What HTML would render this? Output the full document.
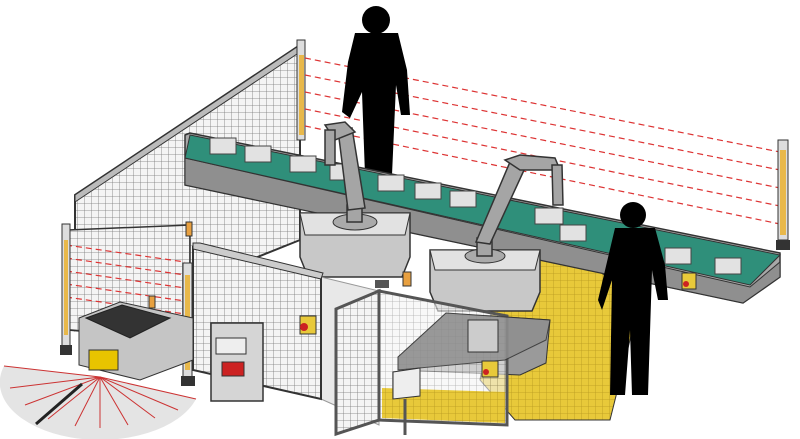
<!DOCTYPE html>
<html><head><meta charset="utf-8"><style>
html,body{margin:0;padding:0;background:#fff;}
svg{display:block}
</style></head><body>
<svg width="800" height="439" viewBox="0 0 800 439" xmlns="http://www.w3.org/2000/svg">
<defs>
<pattern id="mesh" width="7" height="7" patternUnits="userSpaceOnUse">
<rect width="7" height="7" fill="#f4f4f4"/>
<path d="M0 0H7M0 0V7" stroke="#777" stroke-width="0.8"/>
</pattern>
<pattern id="ymesh" width="7" height="7" patternUnits="userSpaceOnUse">
<rect width="7" height="7" fill="#e8c93a"/>
<path d="M0 0H7M0 0V7" stroke="#b89a20" stroke-width="0.8"/>
</pattern>
</defs>

<!-- yellow floor -->
<polygon points="500,262 580,258 640,300 610,420 515,420 480,380" fill="url(#ymesh)" stroke="#333"/>

<!-- left fence -->
<polygon points="75,195 300,45 300,240 75,330" fill="url(#mesh)" stroke="#333" stroke-width="2"/>
<polygon points="75,195 300,45 300,52 75,202" fill="#bbb" stroke="#333"/>
<rect x="297" y="40" width="8" height="100" fill="#ddd" stroke="#333"/>
<rect x="299" y="55" width="5" height="80" fill="#e8b84a"/>

<!-- red dashed lines -->
<g stroke="#d33" stroke-width="1.2" stroke-dasharray="6,4" fill="none">
<line x1="305" y1="58" x2="780" y2="152"/>
<line x1="305" y1="75" x2="780" y2="170"/>
<line x1="305" y1="92" x2="780" y2="188"/>
<line x1="305" y1="109" x2="780" y2="206"/>
<line x1="305" y1="126" x2="780" y2="224"/>
</g>
<rect x="778" y="140" width="10" height="100" fill="#ddd" stroke="#333"/>
<rect x="780" y="150" width="6" height="85" fill="#e8b84a"/>
<rect x="776" y="240" width="14" height="10" fill="#333"/>

<!-- person top -->
<circle cx="376" cy="20" r="14" fill="#000"/>
<path d="M355 33 L398 33 L407 70 L410 115 L401 115 L396 85 L392 175 L365 175 L362 92 L350 118 L342 112 L348 62 Z" fill="#000"/>

<!-- conveyor -->
<polygon points="185,135 190,133 780,253 780,277 743,303 185,185" fill="#a8a8a8" stroke="#333" stroke-width="1.5"/>
<polygon points="185,158 750,287 780,262 780,277 743,303 185,185" fill="#8f8f8f" stroke="#333"/>
<polygon points="190,135 780,255 750,285 185,158" fill="#2f8f7a" stroke="#333"/>
<g fill="#e2e2e2" stroke="#444">
<rect x="210" y="138" width="26" height="16"/><rect x="245" y="146" width="26" height="16"/>
<rect x="290" y="156" width="26" height="16"/><rect x="330" y="164" width="26" height="16"/>
<rect x="378" y="175" width="26" height="16"/><rect x="415" y="183" width="26" height="16"/>
<rect x="450" y="191" width="26" height="16"/><rect x="535" y="208" width="28" height="16"/>
<rect x="560" y="225" width="26" height="16"/>
<rect x="665" y="248" width="26" height="16"/>
<rect x="715" y="258" width="26" height="16"/>
</g>
<rect x="682" y="273" width="14" height="16" fill="#e8c93a" stroke="#333"/>
<circle cx="686" cy="284" r="3" fill="#c22"/>

<!-- robot 1 -->
<polygon points="300,213 410,213 410,257 402,277 308,277 300,257" fill="#c8c8c8" stroke="#333" stroke-width="1.5"/>
<polygon points="300,213 410,213 405,235 305,235" fill="#e2e2e2" stroke="#333"/>
<ellipse cx="355" cy="222" rx="22" ry="8" fill="#aaa" stroke="#333"/>
<g stroke="#333" stroke-width="1.5" fill="#a5a5a5">
<polygon points="347,222 362,222 362,205 347,205"/>
<polygon points="348,210 365,208 352,128 338,130"/>
<polygon points="325,125 345,122 355,132 335,140"/>
<polygon points="325,130 335,130 335,165 325,165"/>
</g>

<!-- robot 2 -->
<polygon points="430,250 540,250 540,292 532,311 438,311 430,292" fill="#c8c8c8" stroke="#333" stroke-width="1.5"/>
<polygon points="430,250 540,250 535,270 435,270" fill="#e2e2e2" stroke="#333"/>
<ellipse cx="485" cy="256" rx="20" ry="7" fill="#aaa" stroke="#333"/>
<g stroke="#333" stroke-width="1.5" fill="#a5a5a5">
<polygon points="477,256 492,256 492,238 477,238"/>
<polygon points="476,242 490,244 525,168 510,162"/>
<polygon points="505,160 520,155 555,158 560,170 520,170"/>
<polygon points="552,165 562,165 563,205 553,205"/>
</g>

<!-- left lower fence + red dashes -->
<polygon points="68,230 190,225 190,340 68,330" fill="url(#mesh)" stroke="#333" stroke-width="1.5"/>
<g stroke="#d33" stroke-width="1.2" stroke-dasharray="6,4" fill="none">
<line x1="66" y1="245" x2="185" y2="262"/>
<line x1="66" y1="258" x2="185" y2="275"/>
<line x1="66" y1="271" x2="185" y2="288"/>
<line x1="66" y1="284" x2="185" y2="301"/>
<line x1="66" y1="297" x2="185" y2="314"/>
</g>
<rect x="62" y="224" width="8" height="125" fill="#ddd" stroke="#333"/>
<rect x="64" y="240" width="4" height="95" fill="#e8b84a"/>
<rect x="60" y="345" width="12" height="10" fill="#333"/>

<!-- floor between -->
<polygon points="321,277 379,291 379,425 321,399" fill="#e8e8e8" stroke="#999"/>

<!-- front enclosure left panel -->
<polygon points="193,247 321,277 321,399 193,370" fill="url(#mesh)" stroke="#333" stroke-width="2"/>
<polygon points="193,243 200,243 323,273 321,279 193,249" fill="#ccc" stroke="#333"/>
<rect x="211" y="323" width="52" height="78" fill="#d5d5d5" stroke="#333" stroke-width="1.5"/>
<rect x="216" y="338" width="30" height="16" fill="#eee" stroke="#333"/>
<rect x="222" y="362" width="22" height="14" fill="#c22" stroke="#333"/>
<rect x="300" y="316" width="16" height="18" fill="#e8c93a" stroke="#333"/>
<circle cx="304" cy="327" r="4" fill="#c22"/>

<!-- open door -->
<polygon points="336,309 379,291 379,420 336,434" fill="url(#mesh)" stroke="#555" stroke-width="3"/>

<!-- right panel region: table behind -->
<polygon points="398,357 446,313 550,320 546,363 520,375 398,370" fill="#9a9a9a" stroke="#333"/>
<polygon points="379,291 507,316 507,425 379,420" fill="url(#mesh)" stroke="#555" stroke-width="3" fill-opacity="0.6"/>
<polygon points="382,388 505,392 505,423 382,418" fill="url(#ymesh)"/>
<polygon points="398,357 446,313 550,320 546,340 505,360 398,370" fill="#8f8f8f" stroke="#333" opacity="0.85"/>
<rect x="468" y="320" width="30" height="32" fill="#ccc" stroke="#333"/>
<rect x="482" y="361" width="16" height="16" fill="#e8c93a" stroke="#333"/>
<circle cx="486" cy="372" r="3" fill="#c22"/>
<polygon points="393,372 420,368 420,396 393,399" fill="#eee" stroke="#333"/>
<line x1="405" y1="399" x2="405" y2="435" stroke="#555" stroke-width="3"/>
<rect x="403" y="272" width="8" height="14" fill="#e8a040" stroke="#333"/>
<rect x="375" y="280" width="14" height="8" fill="#555"/>

<!-- person right -->
<circle cx="633" cy="215" r="13" fill="#000"/>
<path d="M615 228 L655 228 L665 265 L668 300 L658 300 L652 270 L648 395 L632 395 L630 330 L625 395 L610 395 L612 280 L602 310 L598 300 Z" fill="#000"/>

<!-- right light curtain post -->
<rect x="183" y="263" width="9" height="115" fill="#ddd" stroke="#333"/>
<rect x="185" y="275" width="5" height="95" fill="#e8b84a"/>
<rect x="181" y="376" width="14" height="10" fill="#333"/>
<rect x="186" y="222" width="6" height="14" fill="#e8a040" stroke="#333"/>

<!-- scanner fan -->
<path d="M100 377 L4 366 A96 55 0 0 0 196 399 Z" fill="#e4e4e4"/>
<g stroke="#c33" stroke-width="1" fill="none">
<line x1="100" y1="377" x2="4" y2="366"/>
<line x1="100" y1="377" x2="10" y2="388"/>
<line x1="100" y1="377" x2="25" y2="405"/>
<line x1="100" y1="377" x2="48" y2="419"/>
<line x1="100" y1="377" x2="75" y2="426"/>
<line x1="100" y1="377" x2="100" y2="428"/>
<line x1="100" y1="377" x2="128" y2="425"/>
<line x1="100" y1="377" x2="155" y2="418"/>
<line x1="100" y1="377" x2="178" y2="410"/>
<line x1="100" y1="377" x2="196" y2="399"/>
</g>
<line x1="36" y1="424" x2="82" y2="384" stroke="#222" stroke-width="3"/>
<!-- scanner box -->
<polygon points="79,318 120,302 193,318 193,360 140,380 79,365" fill="#c5c5c5" stroke="#333"/>
<polygon points="86,318 122,305 170,318 130,338" fill="#333" stroke="#222"/>
<rect x="89" y="350" width="29" height="20" fill="#e8c400" stroke="#333"/>
<rect x="149" y="296" width="6" height="12" fill="#e8a040" stroke="#333"/>
</svg>
</body></html>
